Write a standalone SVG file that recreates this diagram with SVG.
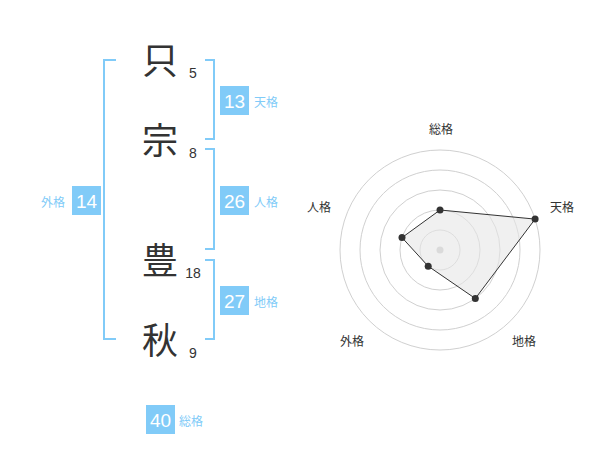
<svg xmlns="http://www.w3.org/2000/svg" width="600" height="470" viewBox="0 0 600 470">
<style>
.ch{font-family:"Noto Sans CJK JP","Noto Sans CJK SC",sans-serif;font-size:36px;fill:#333;text-anchor:middle}
.num{font-family:"Liberation Sans",Arial,sans-serif;font-size:14px;fill:#333;text-anchor:middle}
.br{fill:none;stroke:#81CBF8;stroke-width:2}
.box{fill:#81CBF8}
.bn{font-family:"Liberation Sans",Arial,sans-serif;font-size:19px;fill:#fff;text-anchor:middle}
.lb{font-family:"Noto Sans CJK JP","Noto Sans CJK SC",sans-serif;font-size:12px;fill:#81CBF8}
.grid{fill:none;stroke:#d0d0d0;stroke-width:1}
.ax{font-family:"Noto Sans CJK JP","Noto Sans CJK SC",sans-serif;font-size:12px;fill:#333;text-anchor:middle}
.pt{fill:#333}
</style>
<g id="chars">
<g id="c1"><text class="ch" x="160" y="74">只</text><text class="num" x="193" y="78">5</text></g>
<g id="c2"><text class="ch" x="160" y="154">宗</text><text class="num" x="193" y="158">8</text></g>
<g id="c3"><text class="ch" x="160" y="274">豊</text><text class="num" x="193" y="278">18</text></g>
<g id="c4"><text class="ch" x="160" y="354">秋</text><text class="num" x="193" y="358">9</text></g>
</g>
<g id="connectors">
<path class="br" d="M116,60 H104 V339 H116"/>
<path class="br" d="M205,60 H214 V139 H205"/>
<path class="br" d="M205,149 H214 V249 H205"/>
<path class="br" d="M205,260 H214 V339 H205"/>
</g>
<g id="tenkaku"><rect class="box" x="220" y="86" width="29" height="29"/><text class="bn" x="234.5" y="107.5">13</text><text class="lb" x="254" y="107">天格</text></g>
<g id="jinkaku"><rect class="box" x="220" y="186" width="29" height="29"/><text class="bn" x="234.5" y="207.5">26</text><text class="lb" x="254" y="207">人格</text></g>
<g id="chikaku"><rect class="box" x="220" y="286" width="29" height="29"/><text class="bn" x="234.5" y="307.5">27</text><text class="lb" x="254" y="307">地格</text></g>
<g id="gaikaku"><rect class="box" x="72" y="186" width="29" height="29"/><text class="bn" x="86.5" y="207.5">14</text><text class="lb" x="41" y="207">外格</text></g>
<g id="soukaku"><rect class="box" x="146" y="405" width="29" height="29"/><text class="bn" x="160.5" y="426.5">40</text><text class="lb" x="179" y="426">総格</text></g>
<g id="radar">
<circle class="grid" cx="440" cy="250" r="20"/>
<circle class="grid" cx="440" cy="250" r="40"/>
<circle class="grid" cx="440" cy="250" r="60"/>
<circle class="grid" cx="440" cy="250" r="80"/>
<circle class="grid" cx="440" cy="250" r="100"/>
<circle cx="440" cy="250" r="3.5" fill="#c8c8c8"/>
<polygon points="440,210 535.1,219.1 475.3,298.5 428.2,266.2 402,237.6" fill="#e6e6e6" fill-opacity="0.6" stroke="#333" stroke-width="1"/>
<circle class="pt" cx="440" cy="210" r="3.5"/>
<circle class="pt" cx="535.1" cy="219.1" r="3.5"/>
<circle class="pt" cx="475.3" cy="298.5" r="3.5"/>
<circle class="pt" cx="428.2" cy="266.2" r="3.5"/>
<circle class="pt" cx="402" cy="237.6" r="3.5"/>
<text class="ax" x="441" y="134">総格</text>
<text class="ax" x="562" y="212">天格</text>
<text class="ax" x="319" y="212">人格</text>
<text class="ax" x="352" y="346">外格</text>
<text class="ax" x="524" y="346">地格</text>
</g>
</svg>
